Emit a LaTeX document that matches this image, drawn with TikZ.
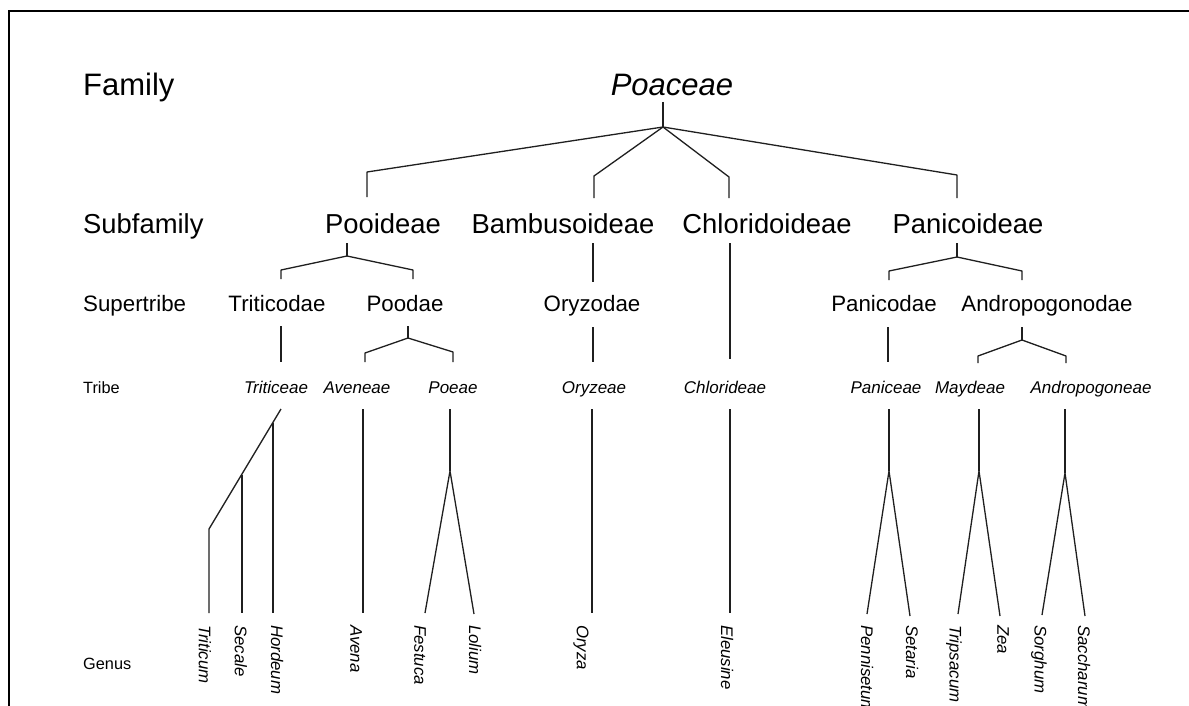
\documentclass[tikz,border=0pt]{standalone}
\usepackage{fontspec}
\setmainfont{Liberation Sans}
\begin{document}
\begin{tikzpicture}[x=1pt,y=-1pt,
  rank/.style={anchor=base west, inner sep=0pt, text=black},
  taxon/.style={anchor=base, inner sep=0pt, text=black},
  famfont/.style={font=\fontsize{31}{35}\selectfont},
  subfont/.style={font=\fontsize{27.4}{30}\selectfont},
  supfont/.style={font=\fontsize{22.3}{25}\selectfont},
  tribfont/.style={font=\fontsize{17}{20}\selectfont\itshape},
  ranksmall/.style={font=\fontsize{16.3}{19}\selectfont},
  genus/.style={font=\fontsize{16.8}{20}\selectfont\itshape, rotate=-90, anchor=west, inner sep=0pt, text=black},
  link/.style={draw=black!88, line width=1.3pt, line join=round, line cap=butt},
  frame/.style={draw=black, line width=2.4pt}
]
\useasboundingbox (0,0) rectangle (1189,706);
\clip (0,0) rectangle (1189,706);
\fill[white] (0,0) rectangle (1189,706);

% frame (top and left edges)
\coordinate (fr-a) at (1195,11);
\coordinate (fr-b) at (9,11);
\coordinate (fr-c) at (9,712);
\draw[frame] (fr-a) -- (fr-b) -- (fr-c);

% rank labels
\node[rank,famfont] (rFamily) at (83,96) {Family};
\node[rank,subfont] (rSub) at (83,233) {Subfamily};
\node[rank,supfont] (rSup) at (83,311) {Supertribe};
\node[rank,ranksmall] (rTribe) at (83,393) {Tribe};
\node[rank,ranksmall] (rGenus) at (83,669) {Genus};

% family
\node[taxon,famfont,font=\fontsize{31}{35}\selectfont\itshape] (Poaceae) at (672,96) {Poaceae};

% subfamilies
\node[taxon,subfont] (Pooideae) at (383,233) {Pooideae};
\node[taxon,subfont] (Bambus) at (563,233) {Bambusoideae};
\node[taxon,subfont] (Chlorid) at (767,233) {Chloridoideae};
\node[taxon,subfont] (Panicoid) at (968,233) {Panicoideae};

% supertribes
\node[taxon,supfont] (Triticodae) at (277,311) {Triticodae};
\node[taxon,supfont] (Poodae) at (405,311) {Poodae};
\node[taxon,supfont] (Oryzodae) at (592,311) {Oryzodae};
\node[taxon,supfont] (Panicodae) at (884,311) {Panicodae};
\node[taxon,supfont] (Andropogonodae) at (1047,311) {Andropogonodae};

% tribes
\node[taxon,tribfont] (Triticeae) at (276,393) {Triticeae};
\node[taxon,tribfont] (Aveneae) at (357,393) {Aveneae};
\node[taxon,tribfont] (Poeae) at (453,393) {Poeae};
\node[taxon,tribfont] (Oryzeae) at (594,393) {Oryzeae};
\node[taxon,tribfont] (Chlorideae) at (725,393) {Chlorideae};
\node[taxon,tribfont] (Paniceae) at (886,393) {Paniceae};
\node[taxon,tribfont] (Maydeae) at (970,393) {Maydeae};
\node[taxon,tribfont] (Andropogoneae) at (1091,393) {Andropogoneae};

% genera
\node[genus] (Triticum) at (205,625) {Triticum};
\node[genus] (Secale) at (241,625) {Secale};
\node[genus] (Hordeum) at (277,625) {Hordeum};
\node[genus] (Avena) at (356,625) {Avena};
\node[genus] (Festuca) at (420,625) {Festuca};
\node[genus] (Lolium) at (475,625) {Lolium};
\node[genus] (Oryza) at (581,625) {Oryza};
\node[genus] (Eleusine) at (727,625) {Eleusine};
\node[genus] (Pennisetum) at (867,625) {Pennisetum};
\node[genus] (Setaria) at (912,625) {Setaria};
\node[genus] (Tripsacum) at (954,625) {Tripsacum};
\node[genus] (Zea) at (1003,625) {Zea};
\node[genus] (Sorghum) at (1039,625) {Sorghum};
\node[genus] (Saccharum) at (1084,625) {Saccharum};

% ---------- connectors ----------
% Poaceae -> subfamilies
\coordinate (P-s) at (663,102);
\coordinate (P-j) at (663,127);
\coordinate (Poo-t) at (367,172); \coordinate (Poo-b) at (367,197);
\coordinate (Bam-t) at (594,176); \coordinate (Bam-b) at (594,198);
\coordinate (Chl-t) at (729,177); \coordinate (Chl-b) at (729,198);
\coordinate (Pan-t) at (957,175); \coordinate (Pan-b) at (957,198);
\draw[link] (P-s) -- (P-j);
\draw[link] (P-j) -- (Poo-t) -- (Poo-b);
\draw[link] (P-j) -- (Bam-t) -- (Bam-b);
\draw[link] (P-j) -- (Chl-t) -- (Chl-b);
\draw[link] (P-j) -- (Pan-t) -- (Pan-b);

% Pooideae -> Triticodae, Poodae
\coordinate (Poo-s) at (347,243); \coordinate (Poo-j) at (347,256);
\coordinate (Ttd-t) at (281,270); \coordinate (Ttd-b) at (281,279);
\coordinate (Pod-t) at (413,270); \coordinate (Pod-b) at (413,279);
\draw[link] (Poo-s) -- (Poo-j);
\draw[link] (Poo-j) -- (Ttd-t) -- (Ttd-b);
\draw[link] (Poo-j) -- (Pod-t) -- (Pod-b);

% Bambusoideae -> Oryzodae
\coordinate (Bam-s) at (593,243); \coordinate (Ory-t) at (593,282);
\draw[link] (Bam-s) -- (Ory-t);

% Chloridoideae -> Chlorideae
\coordinate (Chl-s) at (730,243); \coordinate (Chd-t) at (730,359);
\draw[link] (Chl-s) -- (Chd-t);

% Panicoideae -> Panicodae, Andropogonodae
\coordinate (Pan-s) at (957,243); \coordinate (Pan-j) at (957,257);
\coordinate (Pcd-t) at (889,271); \coordinate (Pcd-b) at (889,280);
\coordinate (And-t) at (1022,271); \coordinate (And-b) at (1022,280);
\draw[link] (Pan-s) -- (Pan-j);
\draw[link] (Pan-j) -- (Pcd-t) -- (Pcd-b);
\draw[link] (Pan-j) -- (And-t) -- (And-b);

% supertribes -> tribes
\coordinate (Ttd-s) at (281,326); \coordinate (Tte-t) at (281,362);
\draw[link] (Ttd-s) -- (Tte-t);
\coordinate (Pod-s) at (408,326); \coordinate (Pod-j) at (408,338);
\coordinate (Ave-t) at (365,353); \coordinate (Ave-b) at (365,362);
\coordinate (Poe-t) at (453,352); \coordinate (Poe-b) at (453,362);
\draw[link] (Pod-s) -- (Pod-j);
\draw[link] (Pod-j) -- (Ave-t) -- (Ave-b);
\draw[link] (Pod-j) -- (Poe-t) -- (Poe-b);
\coordinate (Ory-s) at (593,327); \coordinate (Oze-t) at (593,362);
\draw[link] (Ory-s) -- (Oze-t);
\coordinate (Pcd-s) at (888,327); \coordinate (Pce-t) at (888,362);
\draw[link] (Pcd-s) -- (Pce-t);
\coordinate (And-s) at (1022,327); \coordinate (And-j) at (1022,340);
\coordinate (May-t) at (978,356); \coordinate (May-b) at (978,363);
\coordinate (Ane-t) at (1066,356); \coordinate (Ane-b) at (1066,363);
\draw[link] (And-s) -- (And-j);
\draw[link] (And-j) -- (May-t) -- (May-b);
\draw[link] (And-j) -- (Ane-t) -- (Ane-b);

% tribes -> genera
\coordinate (Tte-s) at (281,409);
\coordinate (Tri-k) at (209,529); \coordinate (Tri-b) at (209,613);
\coordinate (Sec-k) at (242,475); \coordinate (Sec-b) at (242,613);
\coordinate (Hor-k) at (273,423); \coordinate (Hor-b) at (273,613);
\draw[link] (Tte-s) -- (Tri-k) -- (Tri-b);
\draw[link] (Sec-k) -- (Sec-b);
\draw[link] (Hor-k) -- (Hor-b);

\coordinate (Ave-s) at (363,409); \coordinate (Avn-b) at (363,613);
\draw[link] (Ave-s) -- (Avn-b);

\coordinate (Poe-s) at (450,409); \coordinate (Poe-j) at (450,471);
\coordinate (Fes-b) at (425,613); \coordinate (Lol-b) at (474,614);
\draw[link] (Poe-s) -- (Poe-j);
\draw[link] (Fes-b) -- (Poe-j) -- (Lol-b);

\coordinate (Oze-s) at (592,409); \coordinate (Oza-b) at (592,613);
\draw[link] (Oze-s) -- (Oza-b);

\coordinate (Chd-s) at (730,409); \coordinate (Ele-b) at (730,613);
\draw[link] (Chd-s) -- (Ele-b);

\coordinate (Pce-s) at (889,409); \coordinate (Pce-j) at (889,471);
\coordinate (Pen-b) at (867,614); \coordinate (Set-b) at (910,616);
\draw[link] (Pce-s) -- (Pce-j);
\draw[link] (Pen-b) -- (Pce-j) -- (Set-b);

\coordinate (May-s) at (979,409); \coordinate (May-j) at (979,471);
\coordinate (Tps-b) at (958,614); \coordinate (Zea-b) at (1000,616);
\draw[link] (May-s) -- (May-j);
\draw[link] (Tps-b) -- (May-j) -- (Zea-b);

\coordinate (Ane-s) at (1065,409); \coordinate (Ane-j) at (1065,473);
\coordinate (Sor-b) at (1042,615); \coordinate (Sac-b) at (1085,616);
\draw[link] (Ane-s) -- (Ane-j);
\draw[link] (Sor-b) -- (Ane-j) -- (Sac-b);
\end{tikzpicture}
\end{document}
